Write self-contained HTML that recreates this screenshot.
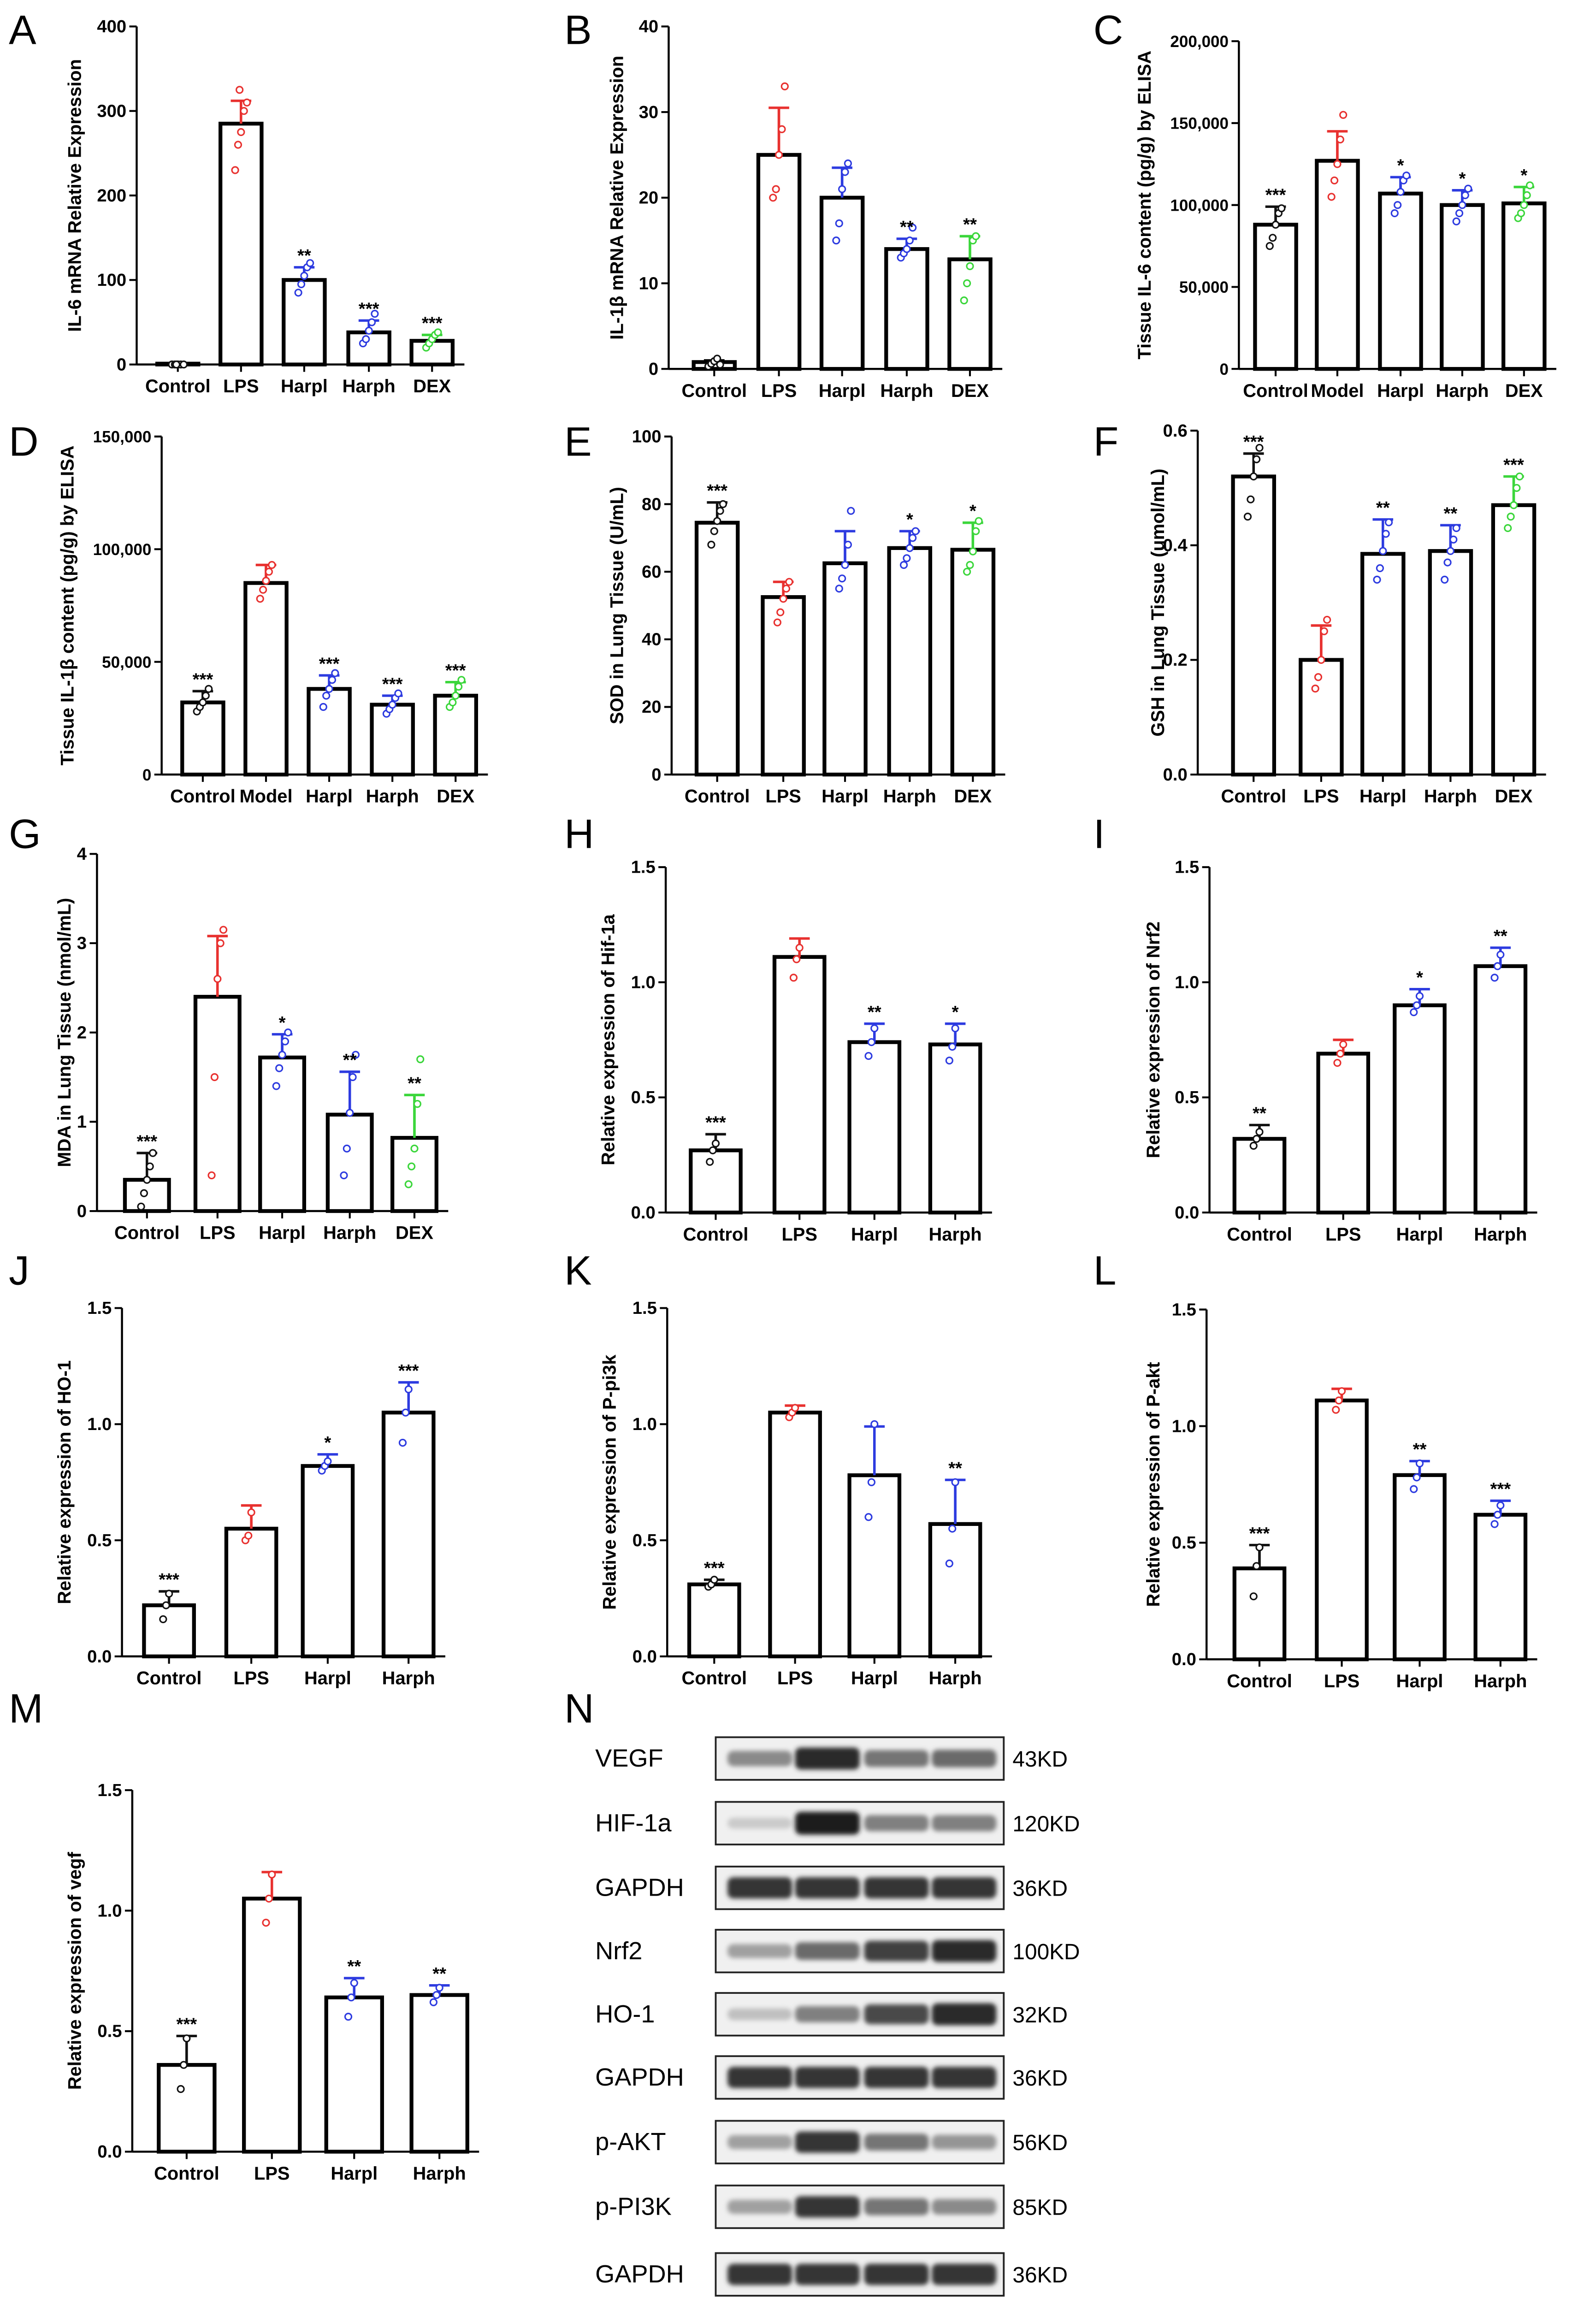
<!DOCTYPE html>
<html><head><meta charset="utf-8"><style>
html,body{margin:0;padding:0;background:#fff;width:3462px;height:5050px;overflow:hidden}
svg{display:block}
text{font-family:"Liberation Sans",Arial,sans-serif}
</style></head><body>
<svg id="fig" width="3462" height="5050" viewBox="0 0 1086 1584" preserveAspectRatio="none" xmlns="http://www.w3.org/2000/svg">
<defs><filter id="blur" x="-20%" y="-50%" width="140%" height="200%"><feGaussianBlur stdDeviation="1.6"/></filter></defs>
</svg>
<script>
const colorsA5=["#111","#e8312f","#2d3be0","#2d3be0","#3bd63b"];
const colorsA4=["#111","#e8312f","#2d3be0","#2d3be0"];
const cat5=["Control","LPS","Harpl","Harph","DEX"];
const cat5M=["Control","Model","Harpl","Harph","DEX"];
const cat4=["Control","LPS","Harpl","Harph"];

// Panel data arrays
const valsA=[1,285,100,38,28], errA=[1,312,115,52,35], starsA=["","","**","***","***"];
const ptsA=[[0,0,0,0,0,0],[230,260,275,300,310,325],[85,95,105,115,120],[25,30,40,50,60],[20,25,30,35,38]];
const valsB=[0.8,25,20,14,12.8], errB=[1.0,30.5,23.5,15.2,15.5], starsB=["","","","**","**"];
const ptsB=[[0.3,0.6,0.9,1.2,0.5],[20,21,25,28,33],[15,17,21,23,24],[13,13.5,14,15,16.5],[8,10,12,15,15.5]];
const valsC=[88000,127000,107000,100000,101000], errC=[99000,145000,117000,109000,111000], starsC=["***","","*","*","*"];
const ptsC=[[75000,80000,88000,95000,98000],[105000,115000,125000,140000,155000],[95000,100000,108000,115000,118000],[90000,95000,100000,106000,110000],[92000,95000,100000,106000,112000]];
const valsD=[32000,85000,38000,31000,35000], errD=[37000,93000,44000,35000,41000], starsD=["***","","***","***","***"];
const ptsD=[[28000,30000,32000,35000,38000],[78000,82000,86000,90000,93000],[30000,35000,38000,42000,45000],[27000,29000,31000,34000,36000],[30000,32000,35000,39000,42000]];
const valsE=[74.5,52.5,62.5,67,66.5], errE=[80.5,57,72,72,74.5], starsE=["***","","","*","*"];
const ptsE=[[68,72,75,78,80],[45,48,52,55,57],[55,58,62,68,78],[62,64,67,70,72],[60,62,66,72,75]];
const valsF=[0.52,0.20,0.385,0.39,0.47], errF=[0.56,0.26,0.445,0.435,0.52], starsF=["***","","**","**","***"];
const ptsF=[[0.45,0.48,0.52,0.55,0.57],[0.15,0.17,0.2,0.25,0.27],[0.34,0.36,0.39,0.42,0.44],[0.34,0.37,0.39,0.41,0.43],[0.43,0.45,0.47,0.5,0.52]];
const valsG=[0.35,2.4,1.72,1.08,0.82], errG=[0.65,3.08,1.98,1.56,1.3], starsG=["***","","*","**","**"];
const ptsG=[[0.05,0.2,0.35,0.5,0.65],[0.4,1.5,2.6,3.0,3.15],[1.4,1.6,1.75,1.9,2.0],[0.4,0.7,1.1,1.5,1.75],[0.3,0.5,0.7,1.2,1.7]];
const valsH=[0.27,1.11,0.74,0.73], errH=[0.34,1.19,0.82,0.82], starsH=["***","","**","*"];
const ptsH=[[0.22,0.27,0.3],[1.02,1.1,1.15],[0.68,0.74,0.8],[0.66,0.72,0.8]];
const valsI=[0.32,0.69,0.90,1.07], errI=[0.38,0.75,0.97,1.15], starsI=["**","","*","**"];
const ptsI=[[0.29,0.32,0.35],[0.65,0.69,0.73],[0.87,0.9,0.94],[1.02,1.07,1.12]];
const valsJ=[0.22,0.55,0.82,1.05], errJ=[0.28,0.65,0.87,1.18], starsJ=["***","","*","***"];
const ptsJ=[[0.16,0.22,0.27],[0.5,0.52,0.62],[0.8,0.82,0.84],[0.92,1.05,1.15]];
const valsK=[0.31,1.05,0.78,0.57], errK=[0.33,1.08,0.99,0.76], starsK=["***","","","**"];
const ptsK=[[0.3,0.31,0.33],[1.03,1.05,1.07],[0.6,0.75,1.0],[0.4,0.55,0.75]];
const valsL=[0.39,1.11,0.79,0.62], errL=[0.49,1.16,0.85,0.68], starsL=["***","","**","***"];
const ptsL=[[0.27,0.4,0.48],[1.07,1.11,1.15],[0.73,0.78,0.84],[0.58,0.62,0.66]];
const valsM=[0.36,1.05,0.64,0.65], errM=[0.48,1.16,0.72,0.69], starsM=["***","","**","**"];
const ptsM=[[0.26,0.36,0.47],[0.95,1.05,1.15],[0.56,0.64,0.7],[0.62,0.65,0.68]];

const NS="http://www.w3.org/2000/svg";
const svg=document.getElementById('fig');
function el(tag,attrs,parent,txt){const e=document.createElementNS(NS,tag);for(const k in attrs)e.setAttribute(k,attrs[k]);if(txt!==undefined)e.textContent=txt;(parent||svg).appendChild(e);return e;}
function fmt(v,dec){if(dec===-1)return v===0?"0":v.toLocaleString('en-US');return v.toFixed(dec);}

const panels=[
 {id:"a",letter:"A",lx:6,ly:30,ax:93,y0:248,yt:18,ymax:400,ticks:[0,100,200,300,400],dec:0,xs:[121,164,207,251,294],bw:28,cats:cat5,vals:valsA,err:errA,pts:ptsA,stars:starsA,cols:colorsA5,ylab:"IL-6 mRNA Relative Expression",ylx:55},
 {id:"b",letter:"B",lx:384,ly:30,ax:455,y0:251,yt:18,ymax:40,ticks:[0,10,20,30,40],dec:0,xs:[486,530,573,617,660],bw:28,cats:cat5,vals:valsB,err:errB,pts:ptsB,stars:starsB,cols:colorsA5,ylab:"IL-1β mRNA Relative Expression",ylx:424},
 {id:"c",letter:"C",lx:744,ly:30,ax:843,y0:251,yt:28,ymax:200000,ticks:[0,50000,100000,150000,200000],dec:-1,xs:[868,910,953,995,1037],bw:28,cats:cat5M,vals:valsC,err:errC,pts:ptsC,stars:starsC,cols:colorsA5,ylab:"Tissue IL-6 content (pg/g) by ELISA",ylx:783},
 {id:"d",letter:"D",lx:6,ly:310,ax:110,y0:527,yt:297,ymax:150000,ticks:[0,50000,100000,150000],dec:-1,xs:[138,181,224,267,310],bw:28,cats:cat5M,vals:valsD,err:errD,pts:ptsD,stars:starsD,cols:colorsA5,ylab:"Tissue IL-1β content (pg/g) by ELISA",ylx:50},
 {id:"e",letter:"E",lx:384,ly:310,ax:457,y0:527,yt:297,ymax:100,ticks:[0,20,40,60,80,100],dec:0,xs:[488,533,575,619,662],bw:28,cats:cat5,vals:valsE,err:errE,pts:ptsE,stars:starsE,cols:colorsA5,ylab:"SOD in Lung Tissue (U/mL)",ylx:424},
 {id:"f",letter:"F",lx:744,ly:310,ax:815,y0:527,yt:293,ymax:0.6,ticks:[0,0.2,0.4,0.6],dec:1,xs:[853,899,941,987,1030],bw:28,cats:cat5,vals:valsF,err:errF,pts:ptsF,stars:starsF,cols:colorsA5,ylab:"GSH in Lung Tissue (umol/mL)",ylx:792},
 {id:"g",letter:"G",lx:6,ly:577,ax:66,y0:824,yt:581,ymax:4,ticks:[0,1,2,3,4],dec:0,xs:[100,148,192,238,282],bw:30,cats:cat5,vals:valsG,err:errG,pts:ptsG,stars:starsG,cols:colorsA5,ylab:"MDA in Lung Tissue (nmol/mL)",ylx:48},
 {id:"h",letter:"H",lx:384,ly:577,ax:453,y0:825,yt:590,ymax:1.5,ticks:[0,0.5,1.0,1.5],dec:1,xs:[487,544,595,650],bw:34,cats:cat4,vals:valsH,err:errH,pts:ptsH,stars:starsH,cols:colorsA4,ylab:"Relative expression of Hif-1a",ylx:418},
 {id:"i",letter:"I",lx:744,ly:577,ax:823,y0:825,yt:590,ymax:1.5,ticks:[0,0.5,1.0,1.5],dec:1,xs:[857,914,966,1021],bw:34,cats:cat4,vals:valsI,err:errI,pts:ptsI,stars:starsI,cols:colorsA4,ylab:"Relative expression of Nrf2",ylx:789},
 {id:"j",letter:"J",lx:6,ly:874,ax:83,y0:1127,yt:890,ymax:1.5,ticks:[0,0.5,1.0,1.5],dec:1,xs:[115,171,223,278],bw:34,cats:cat4,vals:valsJ,err:errJ,pts:ptsJ,stars:starsJ,cols:colorsA4,ylab:"Relative expression of HO-1",ylx:48},
 {id:"k",letter:"K",lx:384,ly:874,ax:454,y0:1127,yt:890,ymax:1.5,ticks:[0,0.5,1.0,1.5],dec:1,xs:[486,541,595,650],bw:34,cats:cat4,vals:valsK,err:errK,pts:ptsK,stars:starsK,cols:colorsA4,ylab:"Relative expression of P-pi3k",ylx:419},
 {id:"l",letter:"L",lx:744,ly:874,ax:821,y0:1129,yt:891,ymax:1.5,ticks:[0,0.5,1.0,1.5],dec:1,xs:[857,913,966,1021],bw:34,cats:cat4,vals:valsL,err:errL,pts:ptsL,stars:starsL,cols:colorsA4,ylab:"Relative expression of P-akt",ylx:789},
 {id:"m",letter:"M",lx:6,ly:1172,ax:90,y0:1464,yt:1218,ymax:1.5,ticks:[0,0.5,1.0,1.5],dec:1,xs:[127,185,241,299],bw:38,cats:cat4,vals:valsM,err:errM,pts:ptsM,stars:starsM,cols:colorsA4,ylab:"Relative expression of vegf",ylx:55}
];

const offs=[-4,-2,0,2,4,-1];
panels.forEach(p=>{
  const g=el('g',{});
  
  
  const y=v=>p.y0-(v/p.ymax)*(p.y0-p.yt);
  const L=el('text',{x:p.lx,y:p.ly,'font-size':28},g,p.letter);
  
  
  const ax=el('line',{x1:p.ax,y1:p.yt,x2:p.ax,y2:p.y0,stroke:'#000','stroke-width':1.4},g);
  
  
  const xr=p.xs[p.xs.length-1]+p.bw/2+8;
  const xa=el('line',{x1:p.ax,y1:p.y0,x2:xr,y2:p.y0,stroke:'#000','stroke-width':1.4},g);
  
  
  p.ticks.forEach(t=>{
    el('line',{x1:p.ax-5,y1:y(t),x2:p.ax,y2:y(t),stroke:'#000','stroke-width':1.3},g);
    const tl=el('text',{x:p.ax-7,y:y(t)+4,'font-size':p.dec===-1?11:12,'font-weight':'bold','text-anchor':'end','font-family':'"Liberation Serif",serif'},g,fmt(t,p.dec));
    
    
  });
  p.xs.forEach(cx=>el('line',{x1:cx,y1:p.y0,x2:cx,y2:p.y0+5,stroke:'#000','stroke-width':1.3},g));
  const cy=(p.y0+p.yt)/2;
  const yl=el('text',{x:p.ylx,y:cy,'font-size':12.5,'font-weight':'bold','text-anchor':'middle',transform:`rotate(-90 ${p.ylx} ${cy})`},g,p.ylab);
  
  
  p.vals.forEach((v,i)=>{
    const cx=p.xs[i],c=p.cols[i];
    const top=y(p.err[i]);
    el('line',{x1:cx,y1:y(v),x2:cx,y2:top,stroke:c,'stroke-width':1.7},g);
    el('line',{x1:cx-7,y1:top,x2:cx+7,y2:top,stroke:c,'stroke-width':1.7},g);
    const b=el('rect',{x:cx-p.bw/2,y:y(v),width:p.bw,height:p.y0-y(v),fill:'#fff',stroke:'#000','stroke-width':2.6},g);
    
    
    el('line',{x1:cx,y1:y(v),x2:cx,y2:top,stroke:c,'stroke-width':1.7},g);
    p.pts[i].forEach((pv,j)=>{
      const d=el('circle',{cx:cx+offs[j%offs.length],cy:y(pv),r:2.2,fill:'#fff',stroke:c,'stroke-width':1},g);
      
      
    });
    if(p.stars[i]){const s=el('text',{x:cx,y:top-4,'font-size':12,'font-weight':'bold','text-anchor':'middle'},g,p.stars[i]);
      
      }
    const cl=el('text',{x:cx,y:p.y0+19,'font-size':12.5,'font-weight':'bold','text-anchor':'middle'},g,p.cats[i]);
    
    
  });
});

// Western blot panel N
const wbNames=["VEGF","HIF-1a","GAPDH","Nrf2","HO-1","GAPDH","p-AKT","p-PI3K","GAPDH"];
const wbSizes=["43KD","120KD","36KD","100KD","32KD","36KD","56KD","85KD","36KD"];
const wbIntensity=[[0.45,0.9,0.55,0.6],[0.15,0.95,0.5,0.5],[0.85,0.85,0.85,0.85],[0.35,0.6,0.8,0.9],[0.2,0.5,0.75,0.9],[0.85,0.85,0.85,0.85],[0.35,0.85,0.55,0.4],[0.35,0.85,0.55,0.45],[0.85,0.85,0.85,0.85]];
const wbRowY=[1182,1226,1270,1313,1356,1399,1443,1487,1533];
const gN=el('g',{});


const nl=el('text',{x:384,y:1172,'font-size':28},gN,"N");


const lanes=[517,563,610,656];
wbNames.forEach((n,r)=>{
  const ty=wbRowY[r];
  const t=el('text',{x:405,y:ty+20,'font-size':17},gN,n);
  
  
  const box=el('rect',{x:487,y:ty,width:196,height:29,fill:'#f0f0f0',stroke:'#222','stroke-width':1.2},gN);
  
  
  wbIntensity[r].forEach((v,i)=>{
    const g=Math.round(235-215*v);
    const b=el('rect',{x:lanes[i]-22,y:ty+14.5-(3+5*v),width:44,height:(6+10*v),rx:4,fill:`rgb(${g},${g},${g})`,filter:'url(#blur)'},gN);
    
    
  });
  const s=el('text',{x:689,y:ty+20,'font-size':15},gN,wbSizes[r]);
  
  
});
</script>
</body></html>
